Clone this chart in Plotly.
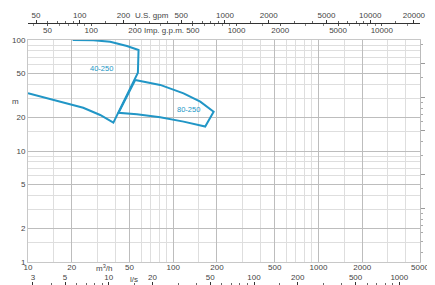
import math
import plotly.graph_objects as go

# ---- data (flow Q in m3/h, head H in m) ----
q_40_250 = [10, 14.2, 20.0, 24.0, 31.4, 38.7, 57.1, 57.7, 48.0, 36.8, 28.2, 20.3]
h_40_250 = [33.1, 29.2, 25.9, 24.5, 21.1, 18.0, 50.7, 81.3, 88.3, 96.5, 99.5, 100]

q_80_250 = [54.7, 81.3, 117.8, 153.5, 189.7, 166, 117.8, 81.3, 56.2, 42.0, 54.7]
h_80_250 = [43.6, 39.4, 33.1, 27.8, 22.6, 16.6, 18.4, 20.1, 21.4, 22.1, 43.6]

curve_names = ["40-250", "80-250"]
label_q = [32.2, 127.6]
label_h = [55.6, 23.8]

m3h_ticks = [10, 20, 50, 100, 200, 500, 1000, 2000, 5000]
ls_ticks = [3, 5, 10, 20, 50, 100, 200, 500, 1000]
usgpm_ticks = [50, 100, 200, 500, 1000, 2000, 5000, 10000, 20000]
impgpm_ticks = [50, 100, 200, 500, 1000, 2000, 5000, 10000]
head_ticks = [1, 2, 5, 10, 20, 50, 100]
feet_ticks = [10, 20, 50, 100, 200]

Q_MIN, Q_MAX = 10, 5000
H_MIN, H_MAX = 1, 100
US_PER_M3H = 4.4029
IMP_PER_M3H = 3.6662
LS_PER_M3H = 1 / 3.6
FT_PER_M = 3.28084

# the page body keeps its default 8px margin, so the figure is laid out 8px smaller
OFF = 8
W, H = 435 - OFF, 285 - OFF
REF_L, REF_R, REF_T, REF_B = 28, 420, 40, 262
PL, PR, PT, PB = REF_L - OFF, REF_R - OFF, REF_T - OFF, REF_B - OFF

BLUE = "#2196c6"
FONT = dict(family="Liberation Sans, Arial, sans-serif", size=8, color="#444")


def minors(lo, hi, majors, digits=(1, 1.5, 2, 3, 4, 5, 6, 7, 8, 9)):
    out = []
    for e in range(-1, 6):
        for d in digits:
            v = round(d * 10 ** e, 6)
            if lo < v < hi and v not in majors:
                out.append(v)
    return out


def lg(v):
    return math.log10(v)


fig = go.Figure()

for qs, hs in ((q_40_250, h_40_250), (q_80_250, h_80_250)):
    fig.add_trace(go.Scatter(x=qs, y=hs, mode="lines",
                             line=dict(color=BLUE, width=2),
                             hoverinfo="skip", showlegend=False))

# invisible anchors so the secondary axes are drawn
inv = dict(mode="markers", marker=dict(opacity=0), hoverinfo="skip", showlegend=False)
fig.add_trace(go.Scatter(x=usgpm_ticks, y=[H_MIN] * len(usgpm_ticks), xaxis="x2", yaxis="y", **inv))
fig.add_trace(go.Scatter(x=impgpm_ticks, y=[H_MIN] * len(impgpm_ticks), xaxis="x3", yaxis="y", **inv))
fig.add_trace(go.Scatter(x=ls_ticks, y=[H_MIN] * len(ls_ticks), xaxis="x4", yaxis="y", **inv))
fig.add_trace(go.Scatter(x=[Q_MIN] * len(feet_ticks), y=feet_ticks, xaxis="x", yaxis="y2", **inv))

ydom = [1 - PB / H, 1 - PT / H]
top_pos = 1 - (23 - OFF) / H

fig.update_layout(
    width=W, height=H,
    margin=dict(l=PL, r=W - PR, t=0, b=0, autoexpand=False),
    paper_bgcolor="white", plot_bgcolor="white",
    font=FONT,
    xaxis=dict(type="log", range=[lg(Q_MIN), lg(Q_MAX)], domain=[0, 1],
               tickvals=m3h_ticks, ticktext=[str(v) for v in m3h_ticks],
               ticks="", ticklabelstandoff=-3,
               showgrid=True, gridcolor="#bdbdbd", gridwidth=1,
               showline=True, linecolor="#c8c8c8", mirror=True,
               minor=dict(tickvals=minors(Q_MIN, Q_MAX, m3h_ticks), showgrid=True,
                          gridcolor="#dedede", gridwidth=1, ticks=""),
               tickfont=FONT, zeroline=False),
    yaxis=dict(type="log", range=[lg(H_MIN), lg(H_MAX)], domain=ydom,
               tickvals=head_ticks, ticktext=[str(v) for v in head_ticks],
               ticks="", showgrid=True, gridcolor="#bdbdbd", gridwidth=1,
               showline=True, linecolor="#c8c8c8", mirror=True,
               minor=dict(tickvals=minors(H_MIN, H_MAX, head_ticks), showgrid=True,
                          gridcolor="#dedede", gridwidth=1, ticks=""),
               tickfont=FONT, zeroline=False),
    xaxis2=dict(type="log", overlaying="x", anchor="free", position=top_pos, side="top",
                range=[lg(Q_MIN * US_PER_M3H), lg(Q_MAX * US_PER_M3H)],
                tickvals=usgpm_ticks, ticktext=[str(v) for v in usgpm_ticks],
                ticks="outside", ticklen=3, tickcolor="#333", tickwidth=1,
                ticklabelstandoff=-1,
                showline=True, linecolor="#333", linewidth=1.3, showgrid=False,
                minor=dict(tickvals=minors(Q_MIN * US_PER_M3H, Q_MAX * US_PER_M3H, usgpm_ticks),
                           ticks="outside", ticklen=2, tickcolor="#666", showgrid=False),
                tickfont=FONT, zeroline=False),
    xaxis3=dict(type="log", overlaying="x", anchor="free", position=top_pos, side="bottom",
                range=[lg(Q_MIN * IMP_PER_M3H), lg(Q_MAX * IMP_PER_M3H)],
                tickvals=impgpm_ticks, ticktext=[str(v) for v in impgpm_ticks],
                ticks="outside", ticklen=2, tickcolor="#555", tickwidth=1,
                ticklabelstandoff=-3,
                showline=False, showgrid=False,
                minor=dict(tickvals=minors(Q_MIN * IMP_PER_M3H, Q_MAX * IMP_PER_M3H, impgpm_ticks),
                           ticks="outside", ticklen=2, tickcolor="#888", showgrid=False),
                tickfont=FONT, zeroline=False),
    xaxis4=dict(type="log", overlaying="x", anchor="free", position=0, side="top",
                range=[lg(Q_MIN * LS_PER_M3H), lg(Q_MAX * LS_PER_M3H)],
                tickvals=ls_ticks, ticktext=[str(v) for v in ls_ticks],
                ticks="outside", ticklen=3, tickcolor="#333", tickwidth=1,
                ticklabelstandoff=-1,
                showline=False, showgrid=False,
                minor=dict(tickvals=minors(Q_MIN * LS_PER_M3H, Q_MAX * LS_PER_M3H, ls_ticks),
                           ticks="outside", ticklen=2, tickcolor="#666", showgrid=False),
                tickfont=FONT, zeroline=False),
    yaxis2=dict(type="log", overlaying="y", anchor="x", side="right",
                range=[lg(H_MIN * FT_PER_M), lg(H_MAX * FT_PER_M)],
                tickvals=feet_ticks, ticktext=[str(v) for v in feet_ticks],
                ticks="outside", ticklen=4, tickcolor="#999",
                ticklabelstandoff=2,
                showline=True, linecolor="#bbb", showgrid=False,
                minor=dict(tickvals=minors(H_MIN * FT_PER_M, H_MAX * FT_PER_M, feet_ticks),
                           ticks="outside", ticklen=2, tickcolor="#aaa", showgrid=False),
                tickfont=FONT, zeroline=False),
)

for name, q, h in zip(curve_names, label_q, label_h):
    fig.add_annotation(x=lg(q), y=lg(h), xref="x", yref="y", text=name, showarrow=False,
                       xanchor="center", yanchor="middle",
                       font=dict(family=FONT["family"], size=7.5, color=BLUE))


def paper_x(px):
    return (px - REF_L) / (REF_R - REF_L)


def paper_y(py):
    return 1 - (py - OFF) / H


units = [("m<sup>3</sup>/h", 104, 268), ("l/s", 134, 279), ("U.S. gpm", 152, 15),
         ("Imp. g.p.m.", 164, 30), ("m", 15, 101)]
for txt, px, py in units:
    fig.add_annotation(x=paper_x(px), y=paper_y(py), xref="paper", yref="paper",
                       text=txt, showarrow=False, xanchor="center", yanchor="middle",
                       font=FONT)

fig.write_html("out.html")
